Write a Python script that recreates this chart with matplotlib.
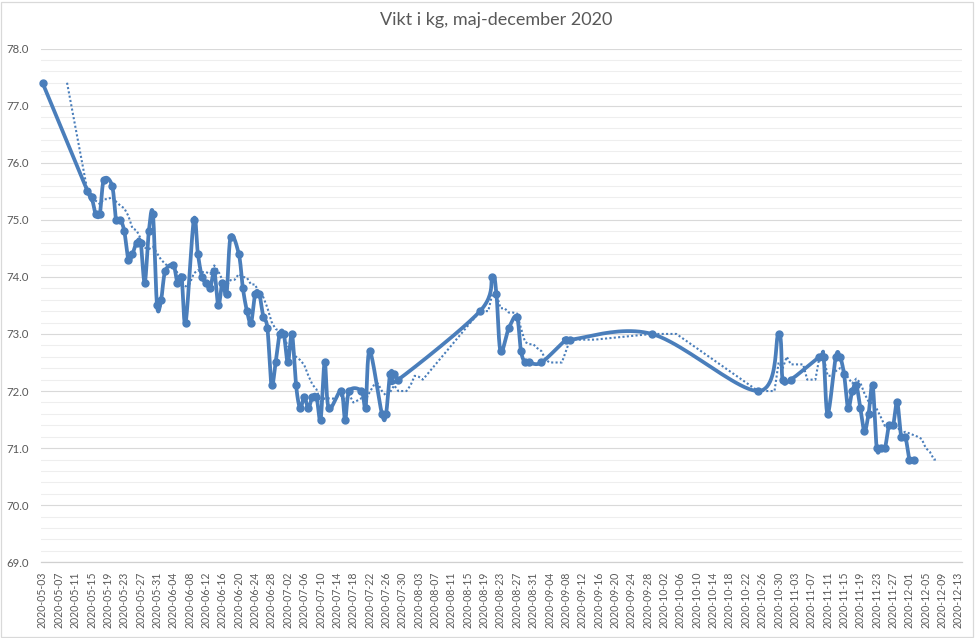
import numpy as np
import matplotlib
matplotlib.use("Agg")
import matplotlib.pyplot as plt
import matplotlib.dates as mdates
from matplotlib.patches import Rectangle
from matplotlib.ticker import MultipleLocator, FormatStrFormatter
import pandas as pd

# ---------------- data ----------------
title = "Vikt i kg, maj-december 2020"

dates = [
    "2020-05-03", "2020-05-14", "2020-05-15", "2020-05-16", "2020-05-17", "2020-05-18",
    "2020-05-20", "2020-05-21", "2020-05-22", "2020-05-23", "2020-05-24", "2020-05-25",
    "2020-05-26", "2020-05-27", "2020-05-28", "2020-05-29", "2020-05-30", "2020-05-31",
    "2020-06-01", "2020-06-02", "2020-06-04", "2020-06-05", "2020-06-06", "2020-06-07",
    "2020-06-09", "2020-06-10", "2020-06-11", "2020-06-12", "2020-06-13", "2020-06-14",
    "2020-06-15", "2020-06-16", "2020-06-17", "2020-06-18", "2020-06-20", "2020-06-21",
    "2020-06-22", "2020-06-23", "2020-06-24", "2020-06-25", "2020-06-26", "2020-06-27",
    "2020-06-28", "2020-06-29", "2020-06-30", "2020-07-01", "2020-07-02", "2020-07-03",
    "2020-07-04", "2020-07-05", "2020-07-06", "2020-07-07", "2020-07-08", "2020-07-09",
    "2020-07-10", "2020-07-11", "2020-07-12", "2020-07-15", "2020-07-16", "2020-07-17",
    "2020-07-20", "2020-07-21", "2020-07-22", "2020-07-25", "2020-07-26", "2020-07-27",
    "2020-07-28", "2020-07-29", "2020-08-18", "2020-08-21", "2020-08-22", "2020-08-23",
    "2020-08-25", "2020-08-27", "2020-08-28", "2020-08-29", "2020-08-30", "2020-09-02",
    "2020-09-08", "2020-09-09", "2020-09-29", "2020-10-25", "2020-10-30", "2020-10-31",
    "2020-11-02", "2020-11-09", "2020-11-10", "2020-11-11", "2020-11-13", "2020-11-14",
    "2020-11-15", "2020-11-16", "2020-11-17", "2020-11-18", "2020-11-19", "2020-11-20",
    "2020-11-21", "2020-11-22", "2020-11-23", "2020-11-24", "2020-11-25", "2020-11-26",
    "2020-11-27", "2020-11-28", "2020-11-29", "2020-11-30", "2020-12-01", "2020-12-02",
]
weights = [
    77.4, 75.5, 75.4, 75.1, 75.1, 75.7,
    75.6, 75.0, 75.0, 74.8, 74.3, 74.4,
    74.6, 74.6, 73.9, 74.8, 75.1, 73.5,
    73.6, 74.1, 74.2, 73.9, 74.0, 73.2,
    75.0, 74.4, 74.0, 73.9, 73.8, 74.1,
    73.5, 73.9, 73.7, 74.7, 74.4, 73.8,
    73.4, 73.2, 73.7, 73.7, 73.3, 73.1,
    72.1, 72.5, 73.0, 73.0, 72.5, 73.0,
    72.1, 71.7, 71.9, 71.7, 71.9, 71.9,
    71.5, 72.5, 71.7, 72.0, 71.5, 72.0,
    72.0, 71.7, 72.7, 71.6, 71.6, 72.3,
    72.3, 72.2, 73.4, 74.0, 73.7, 72.7,
    73.1, 73.3, 72.7, 72.5, 72.5, 72.5,
    72.9, 72.9, 73.0, 72.0, 73.0, 72.2,
    72.2, 72.6, 72.6, 71.6, 72.6, 72.6,
    72.3, 71.7, 72.0, 72.1, 71.7, 71.3,
    71.6, 72.1, 71.0, 71.0, 71.0, 71.4,
    71.4, 71.8, 71.2, 71.2, 70.8, 70.8,
]
axis_start = "2020-05-03"
axis_end = "2020-12-13"
tick_step_days = 4
ma_period = 7
y_min, y_max = 69.0, 78.0

# ---------------- derived series ----------------
s = pd.Series(weights, index=pd.to_datetime(dates))
rows = pd.date_range(axis_start, axis_end, freq="D")
daily = s.reindex(rows)
ma = daily.rolling(ma_period, min_periods=1).mean()
ma.iloc[: ma_period - 1] = np.nan
ma = ma.dropna()

xd = mdates.date2num(s.index.to_pydatetime())
yd = s.values.astype(float)


def smooth_curve(x, y, n=24):
    """Excel-like smoothed line (Catmull-Rom Bezier)."""
    P = np.column_stack([x, y])
    m = len(P)
    out = [P[0]]
    t = np.linspace(0, 1, n)[1:, None]
    for i in range(m - 1):
        p0 = P[i - 1] if i > 0 else P[i]
        p1 = P[i]
        p2 = P[i + 1]
        p3 = P[i + 2] if i + 2 < m else P[i + 1]
        c1 = p1 + (p2 - p0) / 6.0
        c2 = p2 - (p3 - p1) / 6.0
        seg = ((1 - t) ** 3) * p1 + 3 * ((1 - t) ** 2) * t * c1 + 3 * (1 - t) * t ** 2 * c2 + t ** 3 * p2
        out.extend(seg)
    out = np.array(out)
    return out[:, 0], out[:, 1]


sx, sy = smooth_curve(xd, yd)

# ---------------- figure ----------------
plt.rcParams["font.family"] = ["Lato", "DejaVu Sans"]
W, H = 977, 638
fig = plt.figure(figsize=(W / 100, H / 100), dpi=100)
fig.patch.set_facecolor("white")

left, right = 41 / W, 962 / W
bottom, top = 1 - 562.3 / H, 1 - 48.5 / H
ax = fig.add_axes([left, bottom, right - left, top - bottom])

blue = "#4A7EBB"
grey_txt = "#595959"

ax.plot(sx, sy, color=blue, lw=2.7, solid_capstyle="round", solid_joinstyle="round", zorder=3)
ax.plot(xd, yd, linestyle="none", marker="o", ms=5.0, color=blue, zorder=4, clip_on=False)
ax.plot(mdates.date2num(ma.index.to_pydatetime()), ma.values, color=blue, lw=1.5,
        linestyle=(0, (1, 1.1)), zorder=2)

x0 = mdates.date2num(pd.Timestamp(axis_start))
x1 = mdates.date2num(pd.Timestamp(axis_end))
ax.set_xlim(x0 - 0.37, x1 + 0.85)
ax.set_ylim(y_min, y_max)

ticks = pd.date_range(axis_start, axis_end, freq=f"{tick_step_days}D")
ax.set_xticks(mdates.date2num(ticks.to_pydatetime()))
ax.set_xticklabels([d.strftime("%Y-%m-%d") for d in ticks], rotation=90, fontsize=7.6, color=grey_txt)

ax.yaxis.set_major_locator(MultipleLocator(1.0))
ax.yaxis.set_minor_locator(MultipleLocator(0.2))
ax.yaxis.set_major_formatter(FormatStrFormatter("%.1f"))
for lab in ax.get_yticklabels():
    lab.set_fontsize(8.2)
    lab.set_color(grey_txt)

ax.tick_params(axis="both", which="both", length=0)
ax.tick_params(axis="y", pad=8.5)
ax.tick_params(axis="x", pad=6.5)

ax.grid(which="major", axis="y", color="#D9D9D9", lw=0.8)
ax.grid(which="minor", axis="y", color="#EEEEEE", lw=0.8)
ax.set_axisbelow(True)
for sp in ["left", "right", "top"]:
    ax.spines[sp].set_visible(False)
ax.spines["bottom"].set_color("#D0D0D0")
ax.spines["bottom"].set_linewidth(0.9)

fig.text(496 / W, 1 - 20 / H, title, ha="center", va="center", fontsize=13, color=grey_txt)

fig.patches.append(Rectangle((0.5 / W, 1.5 / H), 972.5 / W, 635 / H, transform=fig.transFigure,
                             fill=False, edgecolor="#D9D9D9", lw=0.9))

fig.savefig("out.png", dpi=100)
